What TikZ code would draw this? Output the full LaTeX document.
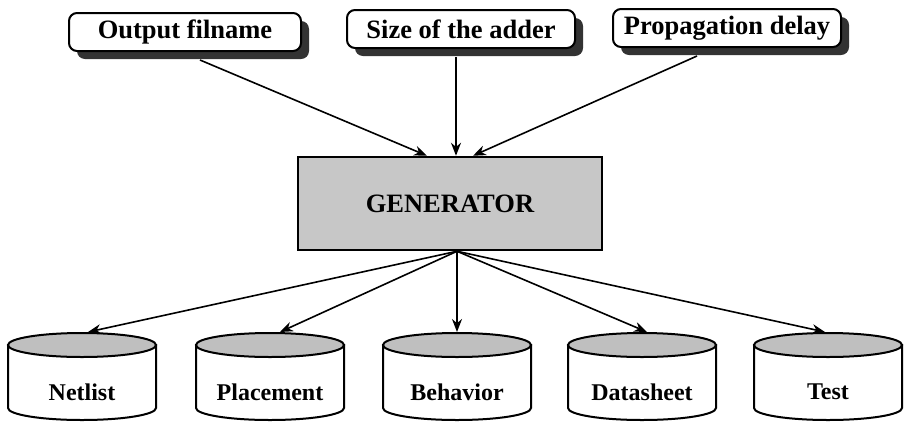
\documentclass[tikz,border=0pt]{standalone}
\usepackage{fontspec}
\setmainfont{Liberation Serif}
\usetikzlibrary{shadows,arrows.meta}
\begin{document}
\begin{tikzpicture}[x=1pt,y=-1pt,
  param/.style={draw=black, line width=2pt, rounded corners=8pt, fill=white,
    minimum height=38pt, inner sep=0pt,
    font=\fontsize{26.5}{30}\selectfont\bfseries,
    drop shadow={shadow xshift=8pt, shadow yshift=-8pt, fill=black!80, opacity=1}},
  genbox/.style={draw=black, line width=2.5pt, fill=black!22, minimum width=304pt,
    minimum height=93pt, inner sep=0pt, font=\fontsize{26.5}{30}\selectfont\bfseries},
  lbl/.style={font=\fontsize{24}{28}\selectfont\bfseries, inner sep=0pt},
  arr/.style={-{Stealth[length=13pt,width=10pt]}, line width=1.6pt},
  cylline/.style={line width=2pt}]
\useasboundingbox (0,0) rectangle (906,424);

\node[param, minimum width=232pt] (o1) at (185,32) {Output filname};
\node[param, minimum width=228pt] (o2) at (461,29) {Size of the adder};
\node[param, minimum width=228pt] (o3) at (727,28) {Propagation delay};

\node[genbox] (gen) at (450,203.5) {GENERATOR};

\foreach \cx/\nm/\dx/\txt in {82/c1/6/Netlist, 270/c2/10/Placement, 457/c3/0/Behavior, 642/c4/5/Datasheet, 828/c5/-3/Test}{
  \filldraw[cylline, fill=white] (\cx-74,345) -- (\cx-74,408)
     arc[start angle=180, end angle=0, x radius=74, y radius=12] -- (\cx+74,345) -- cycle;
  \filldraw[cylline, fill=black!25] (\cx,345) ellipse[x radius=74, y radius=12];
  \coordinate (\nm) at (\cx+\dx,332);
  \node[lbl] (\nm t) at (\cx,392) {\txt};
}

\draw[arr] ([xshift=15pt,yshift=-8pt]o1.south) -- ([xshift=-23pt]gen.north);
\draw[arr] ([xshift=-5pt,yshift=-8pt]o2.south) -- ([xshift=6pt]gen.north);
\draw[arr] ([xshift=-30pt,yshift=-8pt]o3.south) -- ([xshift=23pt]gen.north);

\foreach \nm in {c1,c2,c3,c4,c5}
  \draw[arr] ([xshift=7pt]gen.south) -- (\nm);
\end{tikzpicture}
\end{document}
